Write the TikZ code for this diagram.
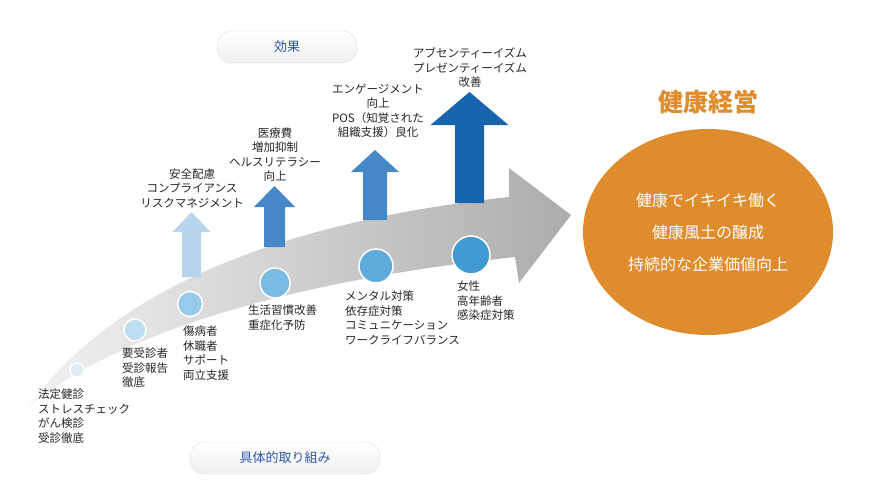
\documentclass[tikz,border=0pt]{standalone}
\usepackage{fontspec}
\setmainfont{Noto Sans CJK JP}
\usetikzlibrary{shapes.geometric}
\definecolor{pillblue}{RGB}{46,90,165}
\definecolor{orng}{RGB}{222,140,45}
\definecolor{c1}{RGB}{222,236,248}
\definecolor{c2}{RGB}{190,222,242}
\definecolor{c3}{RGB}{150,203,235}
\definecolor{c4}{RGB}{120,188,228}
\definecolor{c5}{RGB}{95,172,218}
\definecolor{c6}{RGB}{65,155,210}
\definecolor{a1}{RGB}{185,212,237}
\definecolor{a2}{RGB}{70,135,200}
\definecolor{a3}{RGB}{70,135,200}
\definecolor{a4}{RGB}{25,100,175}
\tikzset{
  pill/.style={rounded corners=15pt, top color=white, bottom color=gray!12, draw=gray!25, minimum height=32pt, text=pillblue, font=\fontsize{13}{15}\selectfont},
  dot/.style={circle, draw=white, line width=1.5pt, inner sep=0pt},
  lab/.style={font=\fontsize{11.5}{14.5}\selectfont, text=black!85, inner sep=0pt},
  lbl/.style={lab, align=left, anchor=north west},
  lbc/.style={lab, align=center, anchor=south},
}
\newcommand{\uparr}[6]{% x, shaft half, head half, top, base ; color
  \fill[#6] (#1-#2,#5) -- (#1-#3,#5) -- (#1,#4) -- (#1+#3,#5) -- (#1+#2,#5) -- (#1+#2,\arrbot) -- (#1-#2,\arrbot) -- cycle;}
\begin{document}
\begin{tikzpicture}[x=1pt,y=-1pt]
\useasboundingbox (0,0) rectangle (880,495);
% big arrow
\shade[left color=gray!10, right color=gray!65, draw=none]
 (29,407) .. controls (100,305) and (250,225) .. (509,197) -- (509,168) -- (571,215) -- (519,283) -- (515,257)
 .. controls (300,280) and (120,330) .. (29,407) -- cycle;
% up arrows
\def\arrbot{277}\uparr{191.5}{9.5}{19}{212}{232}{a1}
\def\arrbot{247}\uparr{274.5}{10.5}{20.5}{186}{207}{a2}
\def\arrbot{220}\uparr{375}{12}{24}{150}{172}{a3}
\def\arrbot{203}\uparr{469.5}{14.5}{39}{92}{125}{a4}
% dots
\node[dot, fill=c1, minimum size=14pt] (d1) at (77,370) {};
\node[dot, fill=c2, minimum size=22pt] (d2) at (135,330) {};
\node[dot, fill=c3, minimum size=25pt] (d3) at (190,304) {};
\node[dot, fill=c4, minimum size=30pt] (d4) at (275,283) {};
\node[dot, fill=c5, minimum size=34pt] (d5) at (376,266) {};
\node[dot, fill=c6, minimum size=38pt] (d6) at (471,255) {};
% pills
\node[pill, minimum width=140pt] (p1) at (287,47) {効果};
\node[pill, minimum width=190pt] (p2) at (285,458) {具体的取り組み};
% top labels
\node[lbc] (t1) at (192,208) {安全配慮\\コンプライアンス\\リスクマネジメント};
\node[lbc] (t2) at (275,182) {医療費\\増加抑制\\ヘルスリテラシー\\向上};
\node[lbc] (t3) at (378,138) {エンゲージメント\\向上\\POS（知覚された\\組織支援）良化};
\node[lbc] (t4) at (470,88) {アブセンティーイズム\\プレゼンティーイズム\\改善};
% bottom labels
\node[lbl] (b1) at (38,389) {法定健診\\ストレスチェック\\がん検診\\受診徹底};
\node[lbl] (b2) at (122,348) {要受診者\\受診報告\\徹底};
\node[lbl] (b3) at (183,326) {傷病者\\休職者\\サポート\\両立支援};
\node[lbl] (b4) at (248,305) {生活習慣改善\\重症化予防};
\node[lbl] (b5) at (345,291) {メンタル対策\\依存症対策\\コミュニケーション\\ワークライフバランス};
\node[lbl] (b6) at (457,281) {女性\\高年齢者\\感染症対策};
% right
\node[text=orng, font=\bfseries\fontsize{25}{28}\selectfont] (title) at (708,102) {健康経営};
\node[ellipse, fill=orng, minimum width=250pt, minimum height=206pt, text=white, align=center, font=\fontsize{16}{32}\selectfont] (goal) at (708,232) {健康でイキイキ働く\\健康風土の醸成\\持続的な企業価値向上};
\end{tikzpicture}
\end{document}
